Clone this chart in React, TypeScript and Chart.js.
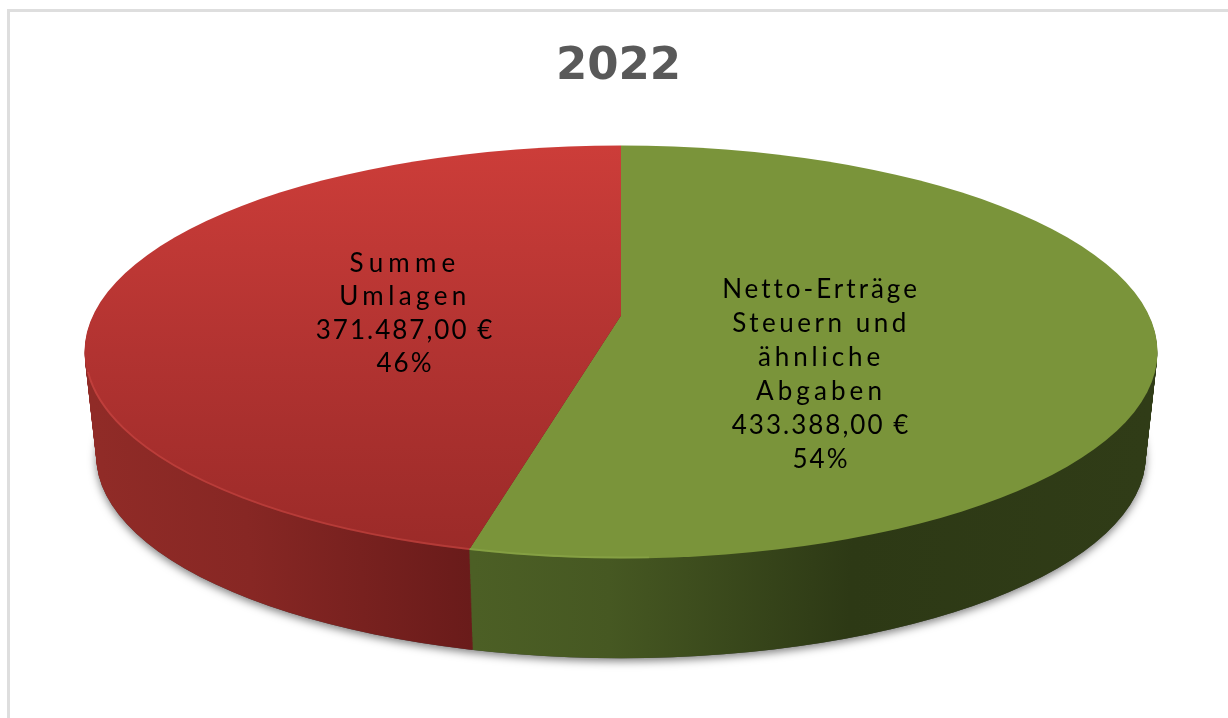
import React, { useEffect, useRef } from "react";
import { Chart, registerables } from "chart.js";

Chart.register(...registerables);

const titleText = "2022";
const categoryLines = [
  ["Netto-Erträge", "Steuern und", "ähnliche", "Abgaben"],
  ["Summe", "Umlagen"],
];
const seriesValues = [433388, 371487];
const valueLabels = ["433.388,00 €", "371.487,00 €"];
const percentLabels = ["54%", "46%"];

const WIDTH = 1228;
const HEIGHT = 718;
const TILT = 0.38;
const DEPTH = 105;
const SHRINK = 0.022;
const PIE_SHIFT_X = 2.5; // the pie sits slightly right of the title's centre
const RIM_OFFSET = 36.5; // ellipse centre sits below the slices' meeting point
const RX = 536.5;
const RY = 206.5;
const LABEL_X = [821, 405];
const LABEL_FIRST_BASELINE = [298, 271.5];
const LINE_STEP = [34, 33.6];
const LINE_SPACING = [
  [3, 3.5, 3.9, 4.1, 2, 2],
  [5.2, 4.4, 2, 2],
];

function ellipsePath(ctx: CanvasRenderingContext2D, cx: number, cy: number, s: number, dy: number) {
  ctx.beginPath();
  ctx.ellipse(cx, cy + dy + RIM_OFFSET * s, RX * s, RY * s, 0, 0, Math.PI * 2);
}

const pie3d = {
  id: "pie3d",
  beforeDraw(chart: any) {
    const { ctx } = chart;
    ctx.save();
    ctx.fillStyle = "#ffffff";
    ctx.fillRect(0, 0, WIDTH, HEIGHT);
    ctx.fillStyle = "#dedede";
    ctx.fillRect(7, 9, WIDTH - 7, 3);
    ctx.fillRect(7, 9, 3, HEIGHT - 9);
    ctx.restore();
  },
  beforeDatasetsDraw(chart: any) {
    const { ctx } = chart;
    const arcs = chart.getDatasetMeta(0).data;
    const ax = arcs[0].x;
    const ay = arcs[0].y;
    const cx = ax + PIE_SHIFT_X;
    const cy = ay;

    // soft shadow below the body
    ctx.save();
    ctx.shadowColor = "rgba(0,0,0,0.5)";
    ctx.shadowBlur = 9;
    ctx.shadowOffsetY = 3;
    ctx.shadowOffsetX = 0;
    ctx.fillStyle = "#444";
    ellipsePath(ctx, cx, cy, 1 - SHRINK, DEPTH);
    ctx.fill();
    ctx.restore();

    const sideGreen = ctx.createLinearGradient(470, 0, 1150, 0);
    sideGreen.addColorStop(0, "#4c5f25");
    sideGreen.addColorStop(0.2, "#465822");
    sideGreen.addColorStop(0.56, "#2d3915");
    sideGreen.addColorStop(1, "#303c17");
    const sideRed = ctx.createLinearGradient(90, 0, 470, 0);
    sideRed.addColorStop(0, "#902b27");
    sideRed.addColorStop(0.4, "#872724");
    sideRed.addColorStop(1, "#691b1a");
    const sides = [sideGreen, sideRed];

    for (let i = DEPTH; i >= 1; i--) {
      const t = i / DEPTH;
      const s = 1 - SHRINK * t;
      ctx.save();
      ellipsePath(ctx, cx, cy, s, i);
      ctx.clip();
      ctx.translate(cx, cy + i);
      ctx.scale(s, TILT * s);
      ctx.translate(-ax, -ay);
      arcs.forEach((arc: any, idx: number) => {
        const saved = arc.options;
        arc.options = { ...saved, backgroundColor: sides[idx] };
        arc.draw(ctx);
        arc.options = saved;
      });
      ctx.restore();
    }

    // top face: the library's own arcs, tilted and trimmed to the ellipse
    ctx.save();
    ellipsePath(ctx, cx, cy, 1, 0);
    ctx.clip();
    ctx.translate(cx, cy);
    ctx.scale(1, TILT);
    ctx.translate(-ax, -ay);
  },
  afterDatasetsDraw(chart: any) {
    const { ctx } = chart;
    ctx.restore();
    const arcs = chart.getDatasetMeta(0).data;
    const cx = arcs[0].x + PIE_SHIFT_X;
    const cy = arcs[0].y;
    // bright rim along the front edge of the top face
    const ecy = cy + RIM_OFFSET;
    const splitX = 469;
    const rim = (x0: number, x1: number, color: string) => {
      ctx.save();
      ctx.beginPath();
      ctx.rect(x0, ecy + 20, x1 - x0, RY + 10);
      ctx.clip();
      ctx.beginPath();
      ctx.ellipse(cx, ecy, RX - 1, RY - 1, 0, 0, Math.PI * 2);
      ctx.strokeStyle = color;
      ctx.lineWidth = 2;
      ctx.stroke();
      ctx.restore();
    };
    rim(0, splitX, "rgba(225,90,82,0.35)");
    rim(splitX, splitX + 180, "rgba(160,190,90,0.3)");
  },
  afterDraw(chart: any) {
    const { ctx } = chart;
    ctx.save();
    ctx.fillStyle = "#000000";
    ctx.textAlign = "center";
    ctx.textBaseline = "alphabetic";
    ctx.font = '26px Lato, "Open Sans", sans-serif';
    categoryLines.forEach((lines, idx) => {
      const all = [...lines, valueLabels[idx], percentLabels[idx]];
      all.forEach((line, n) => {
        (ctx as any).letterSpacing = `${LINE_SPACING[idx][n]}px`;
        ctx.fillText(line, LABEL_X[idx], LABEL_FIRST_BASELINE[idx] + n * LINE_STEP[idx]);
      });
    });
    ctx.restore();
  },
};

export default function App() {
  const ref = useRef<HTMLCanvasElement | null>(null);
  useEffect(() => {
    document.body.style.margin = "0";
    document.body.style.background = "#ffffff";
    const chart = new Chart(ref.current as HTMLCanvasElement, {
      type: "pie",
      data: {
        labels: categoryLines.map((l) => l.join(" ")),
        datasets: [
          {
            data: seriesValues,
            clip: false,
            radius: 700,
            borderWidth: 0,
            backgroundColor: (c: any) => {
              if (c.dataIndex === 0) return "#7a943a";
              const a = c.chart.chartArea;
              if (!a) return "#b03230";
              const cy = (a.top + a.bottom) / 2;
              const g = c.chart.ctx.createLinearGradient(0, cy - 170 / TILT, 0, cy + 243 / TILT);
              g.addColorStop(0, "#cc3d39");
              g.addColorStop(0.5, "#b23331");
              g.addColorStop(1, "#9a2a28");
              return g;
            },
          } as any,
        ],
      },
      options: {
        responsive: false,
        animation: false,
        events: [],
        layout: { padding: { left: 9, top: 0, right: 0, bottom: 181 } },
        plugins: {
          legend: { display: false },
          tooltip: { enabled: false },
          title: {
            display: true,
            text: titleText,
            color: "#595959",
            fullSize: false,
            font: { family: '"DejaVu Sans"', size: 45, weight: "bold" },
            padding: { top: 40, bottom: 0 },
          },
        },
      },
      plugins: [pie3d],
    } as any);
    return () => chart.destroy();
  }, []);
  return <canvas ref={ref} width={WIDTH} height={HEIGHT} style={{ display: "block" }} />;
}
